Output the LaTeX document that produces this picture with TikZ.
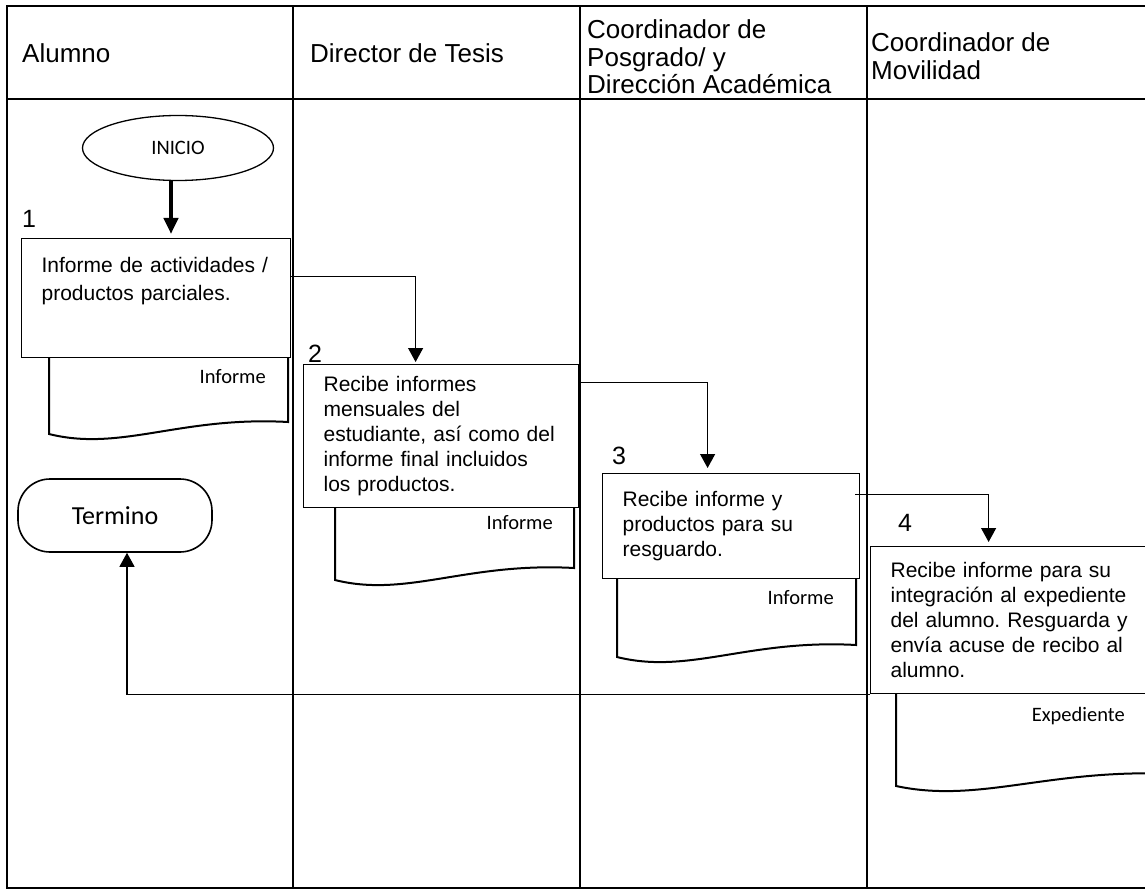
\documentclass[tikz,border=0pt]{standalone}
\usepackage{fontspec}
\setmainfont{Liberation Sans}
\newfontfamily\calibri{Carlito}
\usepackage{tikz}
\usetikzlibrary{shapes.geometric,arrows.meta,positioning,calc}
\frenchspacing

% hoja de documento: x izq, x der, y sup, y inf (lado izq)
\newcommand{\hojadoc}[4]{%
  \draw[docline] (#1,#3) -- (#1,#4)
    .. controls ({#1+0.3*(#2-#1)},{#4+18}) and ({#1+0.55*(#2-#1)},{#4-18}) .. (#2,{#4-12})
    -- (#2,#3);
}

\begin{document}
\begin{tikzpicture}[
  x=1pt, y=-1pt,
  lane/.style = {line width=1.8pt},
  lanehead/.style = {anchor=west, align=left, inner sep=0pt,
                     font=\fontsize{26}{27.5}\selectfont},
  stepbox/.style = {draw, line width=1.2pt, anchor=north west, align=left,
                    inner xsep=20pt, inner ysep=3pt,
                    font=\fontsize{21}{25}\selectfont},
  stepnum/.style = {inner sep=0pt, font=\fontsize{25}{28}\selectfont},
  doclabel/.style = {anchor=east, inner sep=0pt,
                     font=\calibri\fontsize{20.5}{24}\selectfont},
  docline/.style = {line width=2pt},
  inicio/.style = {ellipse, draw, line width=1.3pt, minimum width=191pt,
                   minimum height=65pt, font=\calibri\fontsize{20.5}{24}\selectfont},
  fin/.style = {rectangle, rounded corners=32pt, draw, line width=1.6pt,
                minimum width=194pt, minimum height=73pt,
                font=\calibri\fontsize{26}{30}\selectfont},
  flow/.style = {line width=1.2pt, -{Triangle[length=14pt,width=15pt]}},
  thickflow/.style = {line width=4.5pt, -{Triangle[length=16pt,width=14pt]}},
]
\useasboundingbox (0,0) rectangle (1145,890);
\clip (0,0) rectangle (1145,890);

% carriles
\draw[lane] (7,6) rectangle (1170,888);
\draw[lane] (7,99) -- (1170,99);
\foreach \x in {293,580,867}
  \draw[lane] (\x,6) -- (\x,888);

\node[lanehead] (hAlumno) at (22,53) {Alumno};
\node[lanehead] (hDirector) at (310,53) {Director de Tesis};
\node[lanehead] (hPosgrado) at (587,57) {Coordinador de\\Posgrado/ y\\Dirección Académica};
\node[lanehead] (hMovilidad) at (871,56) {Coordinador de\\Movilidad};

% inicio y fin
\node[inicio] (inicio) at (178,148) {INICIO};
\node[fin] (termino) at (115,515.5) {Termino};

% pasos
\node[stepbox, text width=229pt, minimum height=119pt,
      font=\fontsize{21}{28}\selectfont] (box1) at (21,238)
  {Informe de actividades /\\productos parciales.\\[10pt]\mbox{}};
\node[stepbox, text width=235pt, minimum height=143pt] (box2) at (303,364)
  {Recibe informes\\mensuales del\\estudiante, así como del\\informe final incluidos\\los productos.};
\node[stepbox, text width=217pt, minimum height=105pt] (box3) at (602,473)
  {Recibe informe y\\productos para su\\resguardo.};
\node[stepbox, text width=250pt, minimum height=147pt] (box4) at (870,546)
  {Recibe informe para su\\integración al expediente\\del alumno. Resguarda y\\envía acuse de recibo al\\alumno.};

\node[stepnum, above right=10pt and 1pt of box1.north west] (n1) {1};
\node[stepnum, above right=1pt and 5pt of box2.north west] (n2) {2};
\node[stepnum, above right=8pt and 10pt of box3.north west] (n3) {3};
\node[stepnum, above right=14pt and 28pt of box4.north west] (n4) {4};

% documentos
\hojadoc{49}{288}{357}{434}
\hojadoc{335}{574}{507}{580}
\hojadoc{617}{856}{578}{657}
\hojadoc{896}{1175}{693}{786}

\node[doclabel] (inf1) at (266,377) {Informe};
\node[doclabel] (inf2) at (553,523) {Informe};
\node[doclabel] (inf3) at (834,598) {Informe};
\node[doclabel] (exp4) at (1125,716) {Expediente};

% flujo
\draw[thickflow, shorten >=4pt] ([xshift=-7pt]inicio.south) -- ([xshift=-7pt]inicio.south |- box1.north);
\draw[flow, shorten >=2pt] ([yshift=21.5pt]box1.east) -| ([xshift=-25.5pt]box2.north);
\draw[flow, shorten >=5pt] ([yshift=53.5pt]box2.east) -| ([xshift=-23.5pt]box3.north);
\draw[flow, shorten >=4pt] ([xshift=-5pt,yshift=31.5pt]box3.east) -| ([xshift=-27pt]box4.north);
\draw[flow] (box4.south west) -| ([xshift=12pt]termino.south);
\end{tikzpicture}
\end{document}
